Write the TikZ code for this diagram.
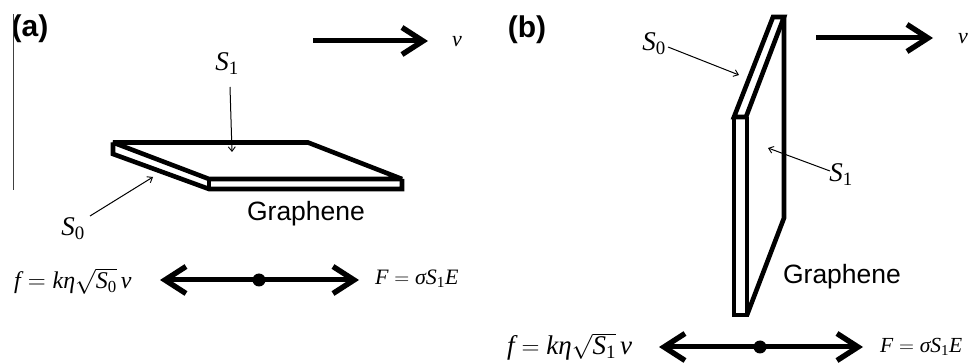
\documentclass[tikz,border=0pt]{standalone}
\usepackage{amsmath}
\usepackage{fontspec}
\setmainfont{Liberation Serif}
\newfontfamily\lsans{Liberation Sans}
\usetikzlibrary{arrows.meta}
\newcommand{\vi}[1]{\text{\itshape #1}}
\tikzset{
  plate/.style={line width=4.6pt,line join=miter,miter limit=2,black},
  bigarrow/.style={line width=5pt,black,-{Straight Barb[length=21pt,width=27pt,line width=5.4pt]}},
  bothways/.style={line width=5pt,black,{Straight Barb[length=21pt,width=27pt,line width=5.4pt]}-{Straight Barb[length=21pt,width=27pt,line width=5.4pt]}},
  leader/.style={line width=1pt,black,-{Straight Barb[length=4.5pt,width=7pt,line width=0.9pt]}},
  panel/.style={font=\lsans\bfseries\fontsize{30}{33}\selectfont,inner sep=0pt},
  matlabel/.style={font=\lsans\fontsize{26.5}{30}\selectfont,inner sep=0pt},
  sym/.style={font=\fontsize{27}{31}\selectfont,inner sep=0pt},
  vee/.style={font=\fontsize{22}{26}\selectfont\itshape,inner sep=0pt},
  eq/.style={font=\fontsize{24}{28}\selectfont,inner sep=0pt},
  pivot/.style={circle,fill=black,minimum size=13pt,inner sep=0pt}
}
\begin{document}
\begin{tikzpicture}[x=1pt,y=-1pt]
\useasboundingbox (0,0) rectangle (970,363);
% panel a
\node[panel] (la) at (30,29) {(a)};
\coordinate (ruleT) at (13,14);
\coordinate (ruleB) at (13,190);
\draw[line width=0.9pt,black!75] (ruleT) -- (ruleB);
\draw[plate] (113,142.5) -- (308,142.5) -- (402,179) -- (209,179) -- cycle;
\draw[plate] (113,142.5) -- (113,154) -- (209,189) -- (402,189) -- (402,179);
\draw[plate] (209,179) -- (209,189);
\coordinate (aV0) at (313,41);
\coordinate (aV1) at (428,41);
\draw[bigarrow] (aV0) -- (aV1);
\node[vee] (av) at (457,42) {v};
\node[sym] (aS1) at (227,64) {$\vi{S}_{\text{1}}$};
\coordinate (aS1t) at (232,152);
\draw[leader] (230,87) -- (aS1t);
\node[sym] (aS0) at (73,229) {$\vi{S}_{\text{0}}$};
\coordinate (aS0t) at (153,177);
\draw[leader] (90,216) -- (aS0t);
\node[matlabel] (ag) at (306,214) {Graphene};
\node[eq,anchor=west] (af) at (14,281) {$\vi{f}=\vi{k}\vi{η}\sqrt{\vi{S}_{\text{0}}}\,\vi{v}$};
\node[eq,font=\fontsize{22}{26}\selectfont,anchor=west] (aF) at (375,279) {$\vi{F}=\vi{σ}\vi{S}_{\text{1}}\vi{E}$};
\node[pivot] (ap) at (259,280) {};
\coordinate (aL) at (160,280);
\coordinate (aR) at (359,280);
\draw[bothways] (aL) -- (aR);
% panel b
\node[panel] (lb) at (527,30) {(b)};
\draw[plate] (773,17) -- (784,17) -- (746,117) -- (734,117) -- cycle;
\draw[plate] (784,17) -- (784,218) -- (747,315);
\draw[plate] (734,117) -- (734,315) -- (747,315) -- (747,117);
\coordinate (bV0) at (816,38);
\coordinate (bV1) at (933,38);
\draw[bigarrow] (bV0) -- (bV1);
\node[vee] (bv) at (963,39) {v};
\node[sym] (bS0) at (654,44) {$\vi{S}_{\text{0}}$};
\coordinate (bS0t) at (739,75);
\draw[leader] (668,47) -- (bS0t);
\node[sym] (bS1) at (841,175) {$\vi{S}_{\text{1}}$};
\coordinate (bS1t) at (768,148);
\draw[leader] (830,171) -- (bS1t);
\node[matlabel] (bg) at (842,277) {Graphene};
\node[eq,font=\fontsize{27}{31}\selectfont,anchor=west] (bf) at (507,347) {$\vi{f}=\vi{k}\vi{η}\sqrt{\vi{S}_{\text{1}}}\,\vi{v}$};
\node[eq,font=\fontsize{21.5}{25}\selectfont,anchor=west] (bF) at (880,347) {$\vi{F}=\vi{σ}\vi{S}_{\text{1}}\vi{E}$};
\node[pivot] (bp) at (760,347) {};
\coordinate (bL) at (659,347);
\coordinate (bR) at (863,347);
\draw[bothways] (bL) -- (bR);
\end{tikzpicture}
\end{document}
